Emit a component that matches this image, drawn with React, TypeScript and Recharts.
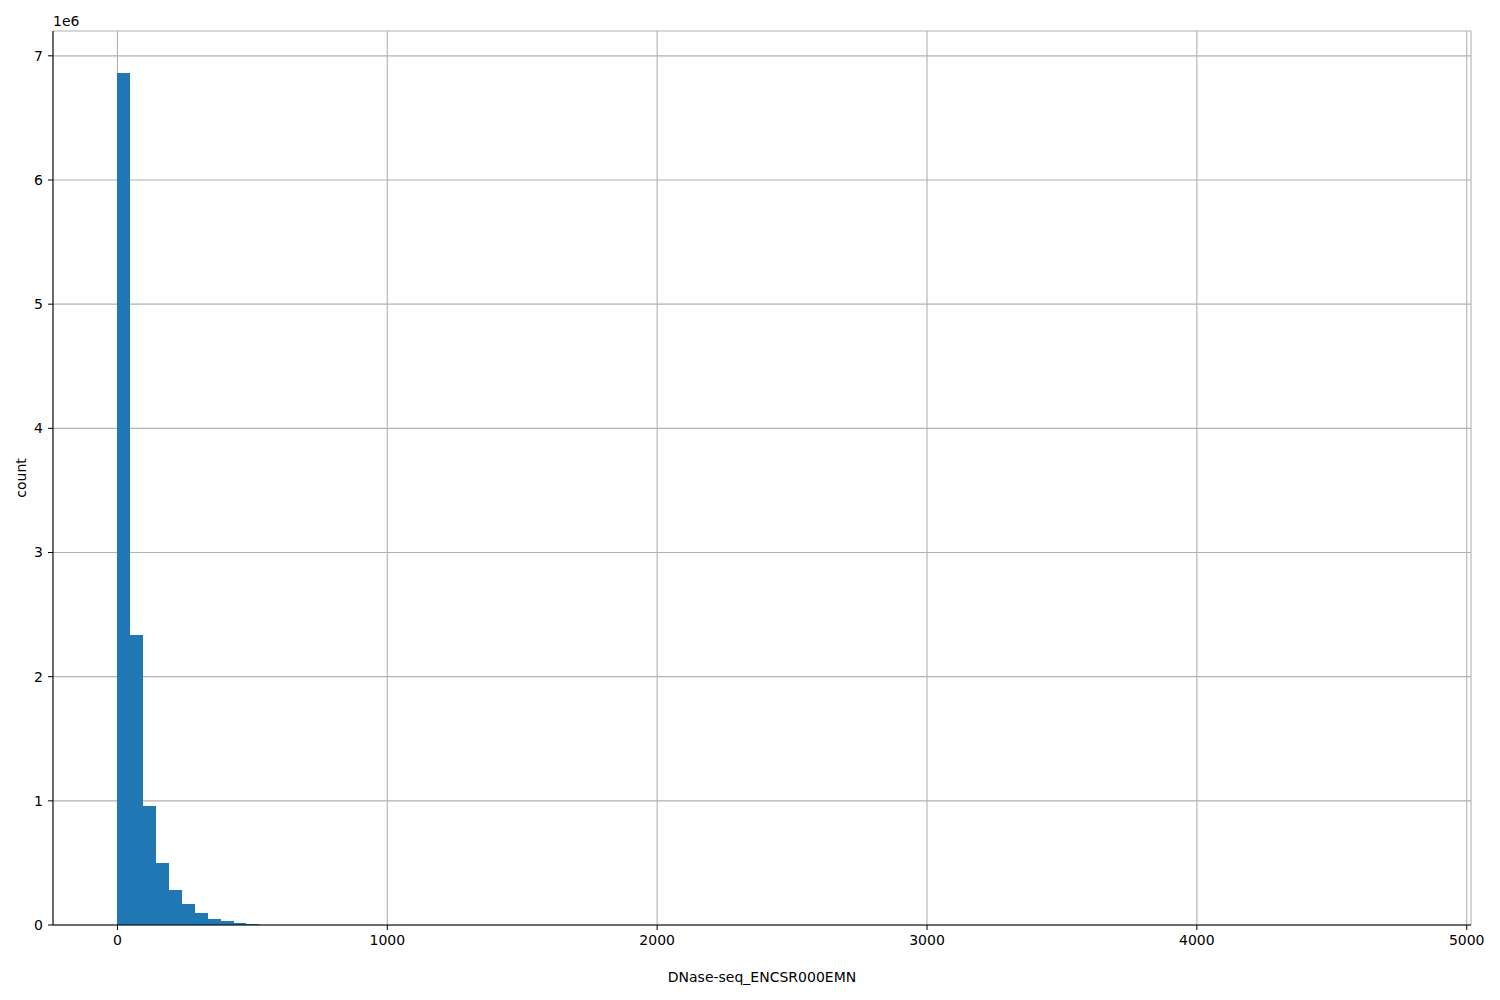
import React from "react";
import {
  BarChart,
  Bar,
  XAxis,
  YAxis,
  CartesianGrid,
  Label,
} from "recharts";

// Histogram of DNase-seq_ENCSR000EMN (100 bins spanning 0..~4777; only visible bins listed)
const binCenters = [
  23.9, 71.7, 119.4, 167.2, 215.0, 262.7, 310.5, 358.3, 406.0, 453.8, 501.6,
  549.3, 597.1, 644.9,
];
const counts = [
  6863000, 2338000, 959000, 499000, 282000, 169000, 97000, 48000, 31000, 16000,
  8000, 4000, 2000, 1000,
];
const xTicks = [0, 1000, 2000, 3000, 4000, 5000];
const yTicks = [0, 1e6, 2e6, 3e6, 4e6, 5e6, 6e6, 7e6];
const xDomain = [-238.85, 5015.85];
const yDomain = [0, 7.2e6];
const xLabel = "DNase-seq_ENCSR000EMN";
const yLabel = "count";
const yScaleNote = "1e6";

const data = binCenters.map((x, i) => ({ x, count: counts[i] }));

const FONT = "'DejaVu Sans', sans-serif";
const tickStyle = { fill: "#000", fontSize: 14, fontFamily: FONT };

export default function App() {
  return (
    <div style={{ position: "absolute", left: 0, top: 0, width: 1500, height: 1000, background: "#fff" }}>
      <BarChart
        width={1500}
        height={1000}
        data={data}
        margin={{ top: 31, right: 29, bottom: 0, left: 0 }}
        barCategoryGap={0}
        barGap={0}
      >
        <XAxis
          dataKey="x"
          type="number"
          domain={xDomain}
          ticks={xTicks}
          allowDataOverflow
          height={75}
          tick={tickStyle}
          tickSize={5}
          tickMargin={5}
          stroke="#000"
          tickLine={{ stroke: "#000" }}
          axisLine={{ stroke: "#000" }}
        >
          <Label
            content={({ viewBox }: any) => (
              <text
                x={viewBox.x + viewBox.width / 2}
                y={982}
                textAnchor="middle"
                fontSize={14}
                fontFamily={FONT}
                fill="#000"
              >
                {xLabel}
              </text>
            )}
          />
        </XAxis>
        <XAxis
          xAxisId="top"
          orientation="top"
          type="number"
          domain={xDomain}
          height={0}
          tick={false}
          tickLine={false}
          axisLine={{ stroke: "#000" }}
        />
        <YAxis
          type="number"
          domain={yDomain}
          ticks={yTicks}
          allowDataOverflow
          width={53}
          tick={tickStyle}
          tickSize={5}
          tickMargin={5}
          tickFormatter={(v: number) => String(Math.round(v / 1e6))}
          stroke="#000"
          tickLine={{ stroke: "#000" }}
          axisLine={{ stroke: "#000" }}
        >
          <Label
            content={({ viewBox }: any) => (
              <g>
                <text
                  x={21}
                  y={viewBox.y + viewBox.height / 2}
                  transform={`rotate(-90 21 ${viewBox.y + viewBox.height / 2})`}
                  textAnchor="middle"
                  dominantBaseline="central"
                  fontSize={14}
                  fontFamily={FONT}
                  fill="#000"
                >
                  {yLabel}
                </text>
                <text
                  x={viewBox.x + viewBox.width}
                  y={26}
                  textAnchor="start"
                  fontSize={14}
                  fontFamily={FONT}
                  fill="#000"
                >
                  {yScaleNote}
                </text>
              </g>
            )}
          />
        </YAxis>
        <YAxis
          yAxisId="right"
          orientation="right"
          type="number"
          domain={yDomain}
          width={0}
          tick={false}
          tickLine={false}
          axisLine={{ stroke: "#000" }}
        />
        <Bar
          dataKey="count"
          fill="#1f77b4"
          shapeRendering="crispEdges"
          isAnimationActive={false}
        />
        <CartesianGrid stroke="#b0b0b0" strokeWidth={1.1} />
      </BarChart>
    </div>
  );
}
